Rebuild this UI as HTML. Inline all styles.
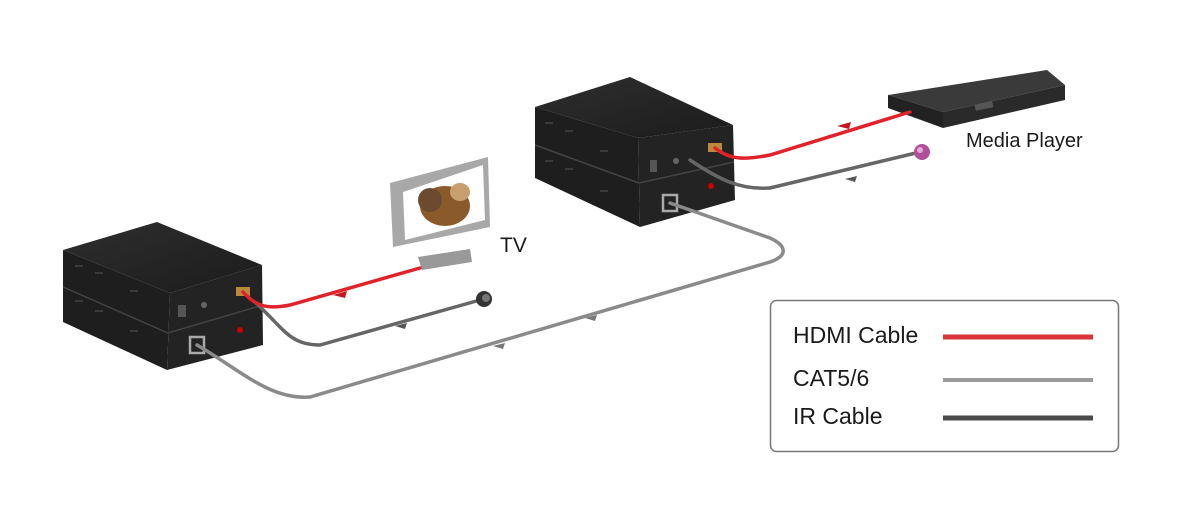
<!DOCTYPE html>
<html><head><meta charset="utf-8"><style>
html,body{margin:0;padding:0;background:#fff;}
svg{display:block;}
text{font-family:"Liberation Sans",sans-serif;fill:#1a1a1a;}
</style></head><body>
<svg width="1200" height="516" viewBox="0 0 1200 516" xmlns="http://www.w3.org/2000/svg">
<defs>
<linearGradient id="top" x1="0" y1="0" x2="1" y2="1"><stop offset="0" stop-color="#2e2e2e"/><stop offset="1" stop-color="#1c1c1c"/></linearGradient>
</defs>
<!-- TV -->
<polygon points="390,183 488,157 490,227 393,247" fill="#a8a8a8"/>
<polygon points="403,192 483,165 485,220 405,240" fill="#fff"/>
<ellipse cx="445" cy="206" rx="25" ry="20" fill="#8a5a2a"/>
<ellipse cx="430" cy="200" rx="12" ry="12" fill="#6b4a30"/>
<ellipse cx="460" cy="192" rx="10" ry="9" fill="#c8a070"/>
<polygon points="418,257 470,249 472,262 422,270" fill="#999"/>
<text x="500" y="252" font-size="21">TV</text>
<!-- Media player -->
<polygon points="888,95 1047,70 1065,85 943,112" fill="#3a3a3a"/>
<polygon points="888,95 943,112 943,128 888,108" fill="#222"/>
<polygon points="943,112 1065,85 1065,100 943,128" fill="#2a2a2a"/>
<rect x="975" y="103" width="18" height="6" fill="#555" transform="rotate(-12 984 106)"/>
<text x="966" y="147" font-size="20">Media Player</text>
<!-- left box -->
<polygon points="63,250 157,222 262,265 170,293" fill="url(#top)"/>
<polygon points="63,250 170,293 167,370 63,322" fill="#1e1e1e"/>
<polygon points="170,293 262,265 263,345 167,370" fill="#232323"/>
<path d="M63 287 L168 333 L263 305" stroke="#444" stroke-width="1.5" fill="none"/>
<g fill="#3a3a3a"><rect x="75" y="265" width="8" height="2"/><rect x="95" y="272" width="8" height="2"/><rect x="75" y="300" width="8" height="2"/><rect x="95" y="310" width="8" height="2"/><rect x="130" y="290" width="8" height="2"/><rect x="130" y="330" width="8" height="2"/></g>
<rect x="178" y="305" width="8" height="12" fill="#555"/>
<circle cx="204" cy="305" r="3" fill="#666"/>
<rect x="236" y="287" width="14" height="9" fill="#b88a3a"/>
<circle cx="240" cy="330" r="3" fill="#c00"/>
<rect x="190" y="337" width="14" height="16" fill="none" stroke="#aaa" stroke-width="2.5"/>
<!-- right box -->
<polygon points="535,107 630,77 733,125 638,138" fill="url(#top)"/>
<polygon points="535,107 638,138 640,227 535,178" fill="#1e1e1e"/>
<polygon points="638,138 733,125 735,200 640,227" fill="#232323"/>
<path d="M535 145 L639 183 L734 162" stroke="#444" stroke-width="1.5" fill="none"/>
<g fill="#3a3a3a"><rect x="545" y="122" width="8" height="2"/><rect x="565" y="130" width="8" height="2"/><rect x="545" y="160" width="8" height="2"/><rect x="565" y="168" width="8" height="2"/><rect x="600" y="150" width="8" height="2"/><rect x="600" y="190" width="8" height="2"/></g>
<rect x="650" y="160" width="7" height="12" fill="#555"/>
<circle cx="676" cy="161" r="3" fill="#666"/>
<rect x="708" y="143" width="14" height="9" fill="#b88a3a"/>
<circle cx="711" cy="186" r="3" fill="#c00"/>
<rect x="663" y="195" width="14" height="16" fill="none" stroke="#aaa" stroke-width="2.5"/>
<!-- cables -->
<g fill="none" stroke-linecap="round">
  <path d="M197 345 C240 370 270 400 310 397 L770 262 C790 255 785 245 770 238 L670 203" stroke="#8a8a8a" stroke-width="3.5"/>
  <path d="M256 303 C285 330 290 345 320 345 L480 300" stroke="#666" stroke-width="3.5"/>
  <path d="M243 292 C255 305 265 310 290 305 L420 268" stroke="#e0232a" stroke-width="3.5"/>
  <path d="M690 160 C720 180 740 190 770 188 L920 152" stroke="#666" stroke-width="3.5"/>
  <path d="M715 148 C730 160 745 160 770 155 L910 112" stroke="#e0232a" stroke-width="3.5"/>
</g>
<path d="M333 295 l14 -4 l-2 7z" fill="#c01a20"/>
<path d="M837 126 l14 -4 l-2 7z" fill="#c01a20"/>
<path d="M395 326 l12 -3 l-2 6z" fill="#555"/>
<path d="M845 179 l12 -3 l-2 6z" fill="#555"/>
<path d="M493 346 l12 -3 l-2 6z" fill="#777"/>
<path d="M585 318 l12 -3 l-2 6z" fill="#777"/>
<circle cx="484" cy="299" r="8" fill="#333"/><circle cx="486" cy="298" r="4" fill="#777"/>
<circle cx="922" cy="152" r="8" fill="#b0509a"/><circle cx="920" cy="150" r="3" fill="#e9a8dd"/>
<!-- legend -->
<rect x="770.5" y="300.5" width="348" height="151" rx="6" fill="#fff" stroke="#777" stroke-width="1.5"/>
<text x="793" y="343" font-size="23">HDMI Cable</text>
<text x="793" y="386" font-size="23">CAT5/6</text>
<text x="793" y="424" font-size="23">IR Cable</text>
<line x1="943" y1="337" x2="1093" y2="337" stroke="#d8343a" stroke-width="5"/>
<line x1="943" y1="380" x2="1093" y2="380" stroke="#9a9a9a" stroke-width="4"/>
<line x1="943" y1="418" x2="1093" y2="418" stroke="#4a4a4a" stroke-width="5"/>
</svg>
</body></html>
